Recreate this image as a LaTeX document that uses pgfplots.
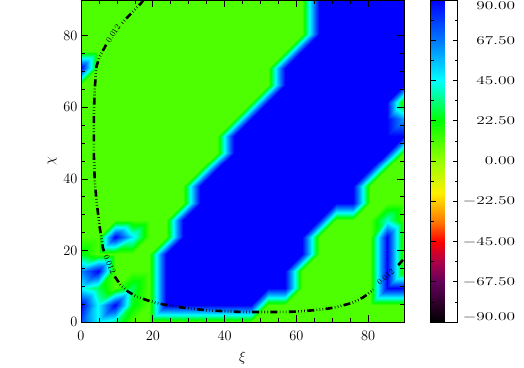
\documentclass[border=0pt]{standalone}
\usepackage{pgfplots}
\pgfplotsset{compat=1.18}
\usetikzlibrary{calc}

% IDL-like rainbow palette, positions = 2*(value+90)
\pgfplotsset{
  colormap={idl}{
    rgb255(0pt)=(0,0,0);
    rgb255(45pt)=(100,0,90);
    rgb255(68pt)=(175,0,70);
    rgb255(90pt)=(255,0,0);
    rgb255(112pt)=(255,120,0);
    rgb255(135pt)=(255,205,0);
    rgb255(144pt)=(255,240,0);
    rgb255(180pt)=(150,255,0);
    rgb255(225pt)=(0,255,0);
    rgb255(270pt)=(0,255,255);
    rgb255(315pt)=(0,120,255);
    rgb255(360pt)=(0,0,255)
  }
}

\tikzset{contourline/.style={black, line width=2.6bp,
  dash pattern=on 7bp off 2.4bp on 0.6bp off 2.4bp on 0.6bp off 2.4bp on 0.6bp off 2.4bp}}
\newcommand{\cbl}[1]{\scalebox{1.45}[1]{#1}}

\begin{document}
\begin{tikzpicture}
\begin{axis}[
  name=main,
  scale only axis,
  width=323bp, height=322bp,
  xmin=0, xmax=90, ymin=0, ymax=90,
  xtick={0,20,...,80}, ytick={0,20,...,80},
  minor tick num=3,
  tick align=inside,
  major tick length=7bp, minor tick length=4bp,
  tick style={black, line width=0.6bp},
  axis line style={line width=0.8bp},
  ticklabel style={font=\fontsize{15}{15}\selectfont},
  xticklabel style={yshift=-6bp},
  xlabel={$\xi$}, ylabel={$\chi$},
  xlabel style={yshift=-4bp},
  label style={font=\fontsize{15}{15}\selectfont},
  axis on top,
  colormap name=idl,
  point meta min=-90, point meta max=90,
  colorbar,
  colorbar style={
    at={(parent axis.north east)}, anchor=north west, xshift=18bp,
    scale only axis, width=27bp, height=322bp,
    ytick={-90,-67.5,...,90},
    yticklabels={\raisebox{5bp}[\height][\depth]{\cbl{$-$90.00}},\cbl{$-$67.50},\cbl{$-$45.00},\cbl{$-$22.50},\cbl{0.00},\cbl{22.50},\cbl{45.00},\cbl{67.50},\raisebox{-6bp}[\height][\depth]{\cbl{90.00}}},
    minor y tick num=1,
    tick align=inside,
    major tick length=5bp, minor tick length=3bp,
    yticklabel pos=right,
    yticklabel style={font=\fontsize{12}{12}\selectfont, text width=54bp, align=right},
  },
]
% scanlines from the top row down
\addplot[surf, shader=interp, mesh/cols=20, point meta=explicit] coordinates {
(0,90)[11] (4.737,90)[11] (9.474,90)[11] (14.21,90)[11] (18.95,90)[11] (23.68,90)[11] (28.42,90)[11] (33.16,90)[11] (37.89,90)[11] (42.63,90)[11] (47.37,90)[11] (52.11,90)[11] (56.84,90)[11] (61.58,90)[11] (66.32,90)[90] (71.05,90)[90] (75.79,90)[90] (80.53,90)[90] (85.26,90)[90] (90,90)[90]

(0,85.26)[11] (4.737,85.26)[11] (9.474,85.26)[11] (14.21,85.26)[11] (18.95,85.26)[11] (23.68,85.26)[11] (28.42,85.26)[11] (33.16,85.26)[11] (37.89,85.26)[11] (42.63,85.26)[11] (47.37,85.26)[11] (52.11,85.26)[11] (56.84,85.26)[11] (61.58,85.26)[11] (66.32,85.26)[90] (71.05,85.26)[90] (75.79,85.26)[90] (80.53,85.26)[90] (85.26,85.26)[90] (90,85.26)[90]

(0,80.53)[11] (4.737,80.53)[11] (9.474,80.53)[11] (14.21,80.53)[11] (18.95,80.53)[11] (23.68,80.53)[11] (28.42,80.53)[11] (33.16,80.53)[11] (37.89,80.53)[11] (42.63,80.53)[11] (47.37,80.53)[11] (52.11,80.53)[11] (56.84,80.53)[11] (61.58,80.53)[11] (66.32,80.53)[90] (71.05,80.53)[90] (75.79,80.53)[90] (80.53,80.53)[90] (85.26,80.53)[90] (90,80.53)[90]

(0,75.79)[11] (4.737,75.79)[11] (9.474,75.79)[11] (14.21,75.79)[11] (18.95,75.79)[11] (23.68,75.79)[11] (28.42,75.79)[11] (33.16,75.79)[11] (37.89,75.79)[11] (42.63,75.79)[11] (47.37,75.79)[11] (52.11,75.79)[11] (56.84,75.79)[11] (61.58,75.79)[90] (66.32,75.79)[90] (71.05,75.79)[90] (75.79,75.79)[90] (80.53,75.79)[90] (85.26,75.79)[90] (90,75.79)[90]

(0,71.05)[90] (4.737,71.05)[11] (9.474,71.05)[11] (14.21,71.05)[11] (18.95,71.05)[11] (23.68,71.05)[11] (28.42,71.05)[11] (33.16,71.05)[11] (37.89,71.05)[11] (42.63,71.05)[11] (47.37,71.05)[11] (52.11,71.05)[11] (56.84,71.05)[90] (61.58,71.05)[90] (66.32,71.05)[90] (71.05,71.05)[90] (75.79,71.05)[90] (80.53,71.05)[90] (85.26,71.05)[90] (90,71.05)[90]

(0,66.32)[11] (4.737,66.32)[11] (9.474,66.32)[11] (14.21,66.32)[11] (18.95,66.32)[11] (23.68,66.32)[11] (28.42,66.32)[11] (33.16,66.32)[11] (37.89,66.32)[11] (42.63,66.32)[11] (47.37,66.32)[11] (52.11,66.32)[11] (56.84,66.32)[90] (61.58,66.32)[90] (66.32,66.32)[90] (71.05,66.32)[90] (75.79,66.32)[90] (80.53,66.32)[90] (85.26,66.32)[90] (90,66.32)[90]

(0,61.58)[11] (4.737,61.58)[11] (9.474,61.58)[11] (14.21,61.58)[11] (18.95,61.58)[11] (23.68,61.58)[11] (28.42,61.58)[11] (33.16,61.58)[11] (37.89,61.58)[11] (42.63,61.58)[11] (47.37,61.58)[11] (52.11,61.58)[90] (56.84,61.58)[90] (61.58,61.58)[90] (66.32,61.58)[90] (71.05,61.58)[90] (75.79,61.58)[90] (80.53,61.58)[90] (85.26,61.58)[90] (90,61.58)[11]

(0,56.84)[11] (4.737,56.84)[11] (9.474,56.84)[11] (14.21,56.84)[11] (18.95,56.84)[11] (23.68,56.84)[11] (28.42,56.84)[11] (33.16,56.84)[11] (37.89,56.84)[11] (42.63,56.84)[11] (47.37,56.84)[90] (52.11,56.84)[90] (56.84,56.84)[90] (61.58,56.84)[90] (66.32,56.84)[90] (71.05,56.84)[90] (75.79,56.84)[90] (80.53,56.84)[90] (85.26,56.84)[90] (90,56.84)[60]

(0,52.11)[11] (4.737,52.11)[11] (9.474,52.11)[11] (14.21,52.11)[11] (18.95,52.11)[11] (23.68,52.11)[11] (28.42,52.11)[11] (33.16,52.11)[11] (37.89,52.11)[11] (42.63,52.11)[90] (47.37,52.11)[90] (52.11,52.11)[90] (56.84,52.11)[90] (61.58,52.11)[90] (66.32,52.11)[90] (71.05,52.11)[90] (75.79,52.11)[90] (80.53,52.11)[90] (85.26,52.11)[90] (90,52.11)[90]

(0,47.37)[11] (4.737,47.37)[11] (9.474,47.37)[11] (14.21,47.37)[11] (18.95,47.37)[11] (23.68,47.37)[11] (28.42,47.37)[11] (33.16,47.37)[11] (37.89,47.37)[11] (42.63,47.37)[90] (47.37,47.37)[90] (52.11,47.37)[90] (56.84,47.37)[90] (61.58,47.37)[90] (66.32,47.37)[90] (71.05,47.37)[90] (75.79,47.37)[90] (80.53,47.37)[90] (85.26,47.37)[90] (90,47.37)[11]

(0,42.63)[11] (4.737,42.63)[11] (9.474,42.63)[11] (14.21,42.63)[11] (18.95,42.63)[11] (23.68,42.63)[11] (28.42,42.63)[11] (33.16,42.63)[11] (37.89,42.63)[90] (42.63,42.63)[90] (47.37,42.63)[90] (52.11,42.63)[90] (56.84,42.63)[90] (61.58,42.63)[90] (66.32,42.63)[90] (71.05,42.63)[90] (75.79,42.63)[90] (80.53,42.63)[90] (85.26,42.63)[11] (90,42.63)[11]

(0,37.89)[11] (4.737,37.89)[11] (9.474,37.89)[11] (14.21,37.89)[11] (18.95,37.89)[11] (23.68,37.89)[11] (28.42,37.89)[11] (33.16,37.89)[90] (37.89,37.89)[90] (42.63,37.89)[90] (47.37,37.89)[90] (52.11,37.89)[90] (56.84,37.89)[90] (61.58,37.89)[90] (66.32,37.89)[90] (71.05,37.89)[90] (75.79,37.89)[90] (80.53,37.89)[11] (85.26,37.89)[11] (90,37.89)[11]

(0,33.16)[11] (4.737,33.16)[11] (9.474,33.16)[11] (14.21,33.16)[11] (18.95,33.16)[11] (23.68,33.16)[11] (28.42,33.16)[11] (33.16,33.16)[90] (37.89,33.16)[90] (42.63,33.16)[90] (47.37,33.16)[90] (52.11,33.16)[90] (56.84,33.16)[90] (61.58,33.16)[90] (66.32,33.16)[90] (71.05,33.16)[90] (75.79,33.16)[90] (80.53,33.16)[11] (85.26,33.16)[11] (90,33.16)[11]

(0,28.42)[11] (4.737,28.42)[11] (9.474,28.42)[11] (14.21,28.42)[11] (18.95,28.42)[11] (23.68,28.42)[11] (28.42,28.42)[90] (33.16,28.42)[90] (37.89,28.42)[90] (42.63,28.42)[90] (47.37,28.42)[90] (52.11,28.42)[90] (56.84,28.42)[90] (61.58,28.42)[90] (66.32,28.42)[90] (71.05,28.42)[11] (75.79,28.42)[11] (80.53,28.42)[11] (85.26,28.42)[40] (90,28.42)[11]

(0,23.68)[11] (4.737,23.68)[11] (9.474,23.68)[90] (14.21,23.68)[50] (18.95,23.68)[11] (23.68,23.68)[11] (28.42,23.68)[90] (33.16,23.68)[90] (37.89,23.68)[90] (42.63,23.68)[90] (47.37,23.68)[90] (52.11,23.68)[90] (56.84,23.68)[90] (61.58,23.68)[90] (66.32,23.68)[11] (71.05,23.68)[11] (75.79,23.68)[11] (80.53,23.68)[11] (85.26,23.68)[90] (90,23.68)[11]

(0,18.95)[25] (4.737,18.95)[11] (9.474,18.95)[11] (14.21,18.95)[11] (18.95,18.95)[11] (23.68,18.95)[90] (28.42,18.95)[90] (33.16,18.95)[90] (37.89,18.95)[90] (42.63,18.95)[90] (47.37,18.95)[90] (52.11,18.95)[90] (56.84,18.95)[90] (61.58,18.95)[90] (66.32,18.95)[11] (71.05,18.95)[11] (75.79,18.95)[11] (80.53,18.95)[11] (85.26,18.95)[90] (90,18.95)[11]

(0,14.21)[65] (4.737,14.21)[90] (9.474,14.21)[11] (14.21,14.21)[11] (18.95,14.21)[11] (23.68,14.21)[90] (28.42,14.21)[90] (33.16,14.21)[90] (37.89,14.21)[90] (42.63,14.21)[90] (47.37,14.21)[90] (52.11,14.21)[90] (56.84,14.21)[90] (61.58,14.21)[11] (66.32,14.21)[11] (71.05,14.21)[11] (75.79,14.21)[11] (80.53,14.21)[11] (85.26,14.21)[90] (90,14.21)[11]

(0,9.474)[45] (4.737,9.474)[30] (9.474,9.474)[11] (14.21,9.474)[30] (18.95,9.474)[11] (23.68,9.474)[90] (28.42,9.474)[90] (33.16,9.474)[90] (37.89,9.474)[90] (42.63,9.474)[90] (47.37,9.474)[90] (52.11,9.474)[90] (56.84,9.474)[90] (61.58,9.474)[11] (66.32,9.474)[11] (71.05,9.474)[11] (75.79,9.474)[11] (80.53,9.474)[11] (85.26,9.474)[90] (90,9.474)[90]

(0,4.737)[90] (4.737,4.737)[45] (9.474,4.737)[90] (14.21,4.737)[25] (18.95,4.737)[11] (23.68,4.737)[90] (28.42,4.737)[90] (33.16,4.737)[90] (37.89,4.737)[90] (42.63,4.737)[90] (47.37,4.737)[90] (52.11,4.737)[11] (56.84,4.737)[11] (61.58,4.737)[11] (66.32,4.737)[11] (71.05,4.737)[11] (75.79,4.737)[11] (80.53,4.737)[11] (85.26,4.737)[11] (90,4.737)[11]

(0,0)[75] (4.737,0)[45] (9.474,0)[35] (14.21,0)[11] (18.95,0)[11] (23.68,0)[11] (28.42,0)[11] (33.16,0)[11] (37.89,0)[11] (42.63,0)[11] (47.37,0)[11] (52.11,0)[11] (56.84,0)[11] (61.58,0)[11] (66.32,0)[11] (71.05,0)[11] (75.79,0)[11] (80.53,0)[11] (85.26,0)[11] (90,0)[11]
};

% contour 0.012, split where the labels sit
\addplot[contourline] coordinates {(17.4,90) (16.8,89.2) (14.5,86.8) (12.2,84.4) (11.2,83.2)};
\addplot[contourline] coordinates {(7.0,77.5) (5.2,74.2) (4.3,71.4) (3.8,64.8) (3.6,58) (3.6,52.8) (3.6,46.3) (3.8,40) (4.3,34) (5.2,26.6) (6.1,20.7) (6.5,19.5)};
\addplot[contourline] coordinates {(9.4,12.7) (11,10.4) (13.1,8.5) (15.5,7.1) (18.7,6.0) (22,5.1) (25,4.5) (30,3.8) (35,3.3) (40,3.0) (45,2.8) (50,2.8) (55,2.8) (59.9,2.9) (65,3.3) (69.2,3.8) (72.5,4.5) (75.7,5.4) (78.5,6.8) (80.8,8.5) (81.4,9.1)};
\addplot[contourline] coordinates {(88.4,15.9) (90,17.7)};

\node[rotate=57, font=\fontsize{8.5}{8.5}\selectfont, inner sep=0pt] at (axis cs:9.0,80.6) {0.012};
\node[rotate=-67, font=\fontsize{8.5}{8.5}\selectfont, inner sep=0pt] at (axis cs:8.0,16.0) {0.012};
\node[rotate=40, font=\fontsize{8.5}{8.5}\selectfont, inner sep=0pt] at (axis cs:84.9,12.6) {0.012};
\end{axis}
\pgfresetboundingbox
\path[use as bounding box] ($(main.south west)+(-81bp,-46bp)$) rectangle ($(main.south west)+(443bp,322bp)$);
\end{tikzpicture}
\end{document}
